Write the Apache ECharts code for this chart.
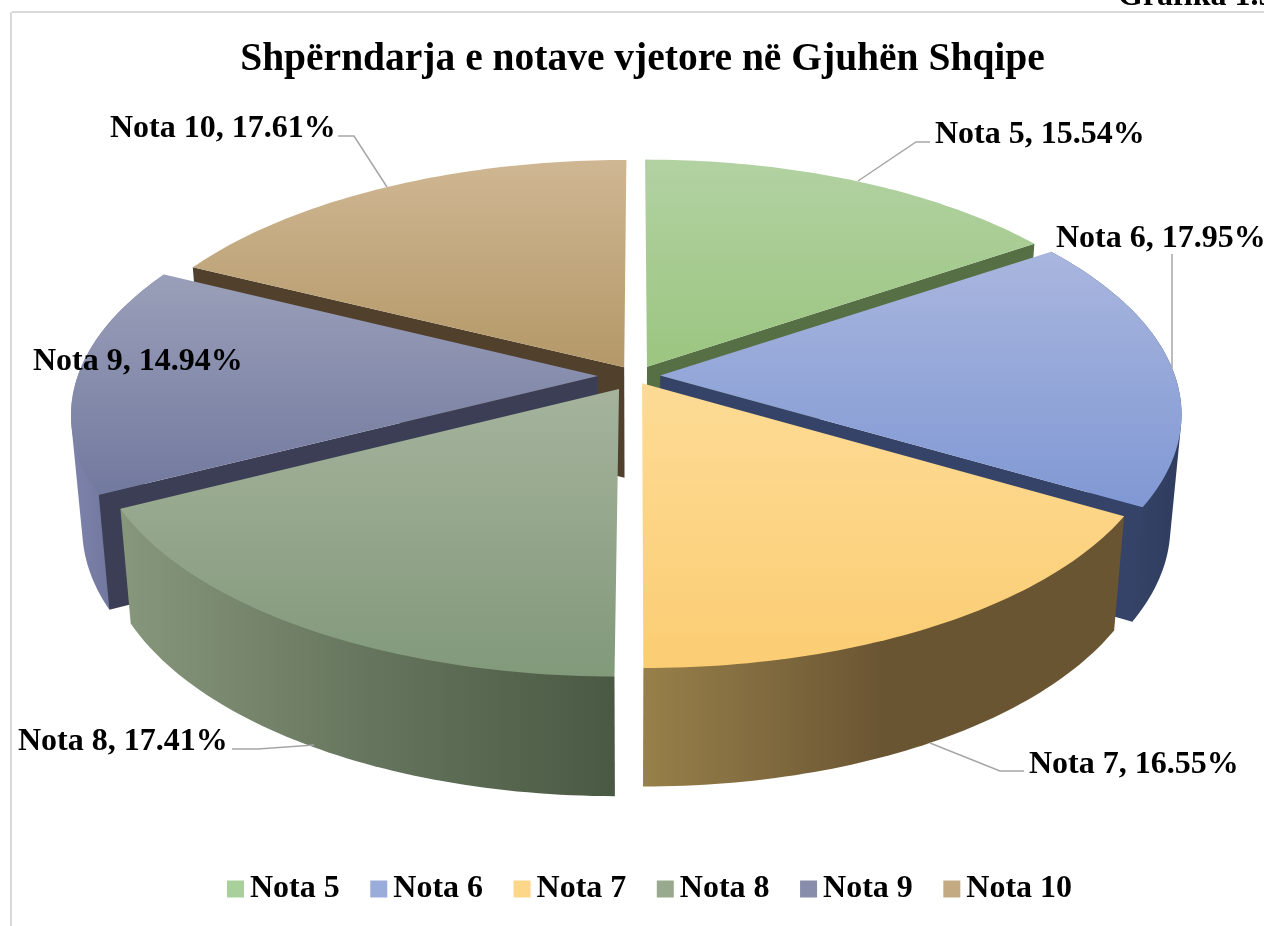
<!DOCTYPE html>
<html><head><meta charset="utf-8">
<style>html,body{margin:0;padding:0;background:#fff}#c{width:1264px;height:926px}</style>
<script src="https://cdn.jsdelivr.net/npm/echarts@6/dist/echarts.min.js"></script>
</head><body><div id="c"></div>
<script>
const categories = ['Nota 5','Nota 6','Nota 7','Nota 8','Nota 9','Nota 10'];
const values = [15.54,17.95,16.55,17.41,14.94,17.61];
const titleText = 'Shpërndarja e notave vjetore në Gjuhën Shqipe';

// Styling per slice: top gradient, wall colours (null = outer wall faces away)
const topColors = [['#b2d2a2','#9bc580'],['#a9b6de','#8098d4'],['#fddb95','#fbcd73'],['#a5b39d','#82997a'],['#9a9fb9','#72799e'],['#cfb793','#b49868']];
const legendColors = ['#a9d09a','#9aacda','#fcd78a','#98a98d','#888dac','#c4aa83'];
const wallStops = [null,['#3f4f78','#2f3c5e'],['#98804a','#6a5533','#6a5533'],['#87977c','#66755d','#4a5943'],['#7d83ab','#5f648c'],null];
const cutColors = ['#566f45','#364368','#6a5533','#5c6b54','#3b3e54','#50402c'];
const drawOrder = [5,0,4,1,3,2];
// which radial cut faces face the viewer [start, end]
const cutVisible = [[0,1],[0,1],[0,0],[0,0],[1,0],[1,0]];

// Layout only: label anchors, leader lines, per-slice view adjustment [dx, dy, sx, sy]
const labelPos = [[935,135],[1056,239],[1029,765],[18,742],[33,362],[110,129]];
const leaders = [
 [[930,142],[916,142],[858,181]],
 [[1172,254],[1172,368]],
 [[1024,771],[1000,771],[930,743]],
 [[232,749],[258,749],[314,745]],
 [],
 [[338,136],[354,136],[387,187]]
];
const sliceView = [[2,4,0.985,1],[-2,0,0.99,0.99],[-4,-6,0.983,0.983],[6,0,0.993,0.993],[0,0,1,1],[11,4,1,1]];

const cx=630, cy=376, A=520, B=242, k=0.15, d=0.062;
const total = values.reduce((a,b)=>a+b,0);
let acc=0;
const spans = values.map(v=>{const a0=acc/total*2*Math.PI; acc+=v; return [a0,acc/total*2*Math.PI];});

function proj(X,Y,z){
  const s=1/(1+k*Y);
  const x=cx+A*X*s, y=cy-B*Y*s;
  return z ? [cx+(x-cx)*0.98, y+111-9*Y] : [x,y];
}

function hull(pts){
  const p=pts.slice().sort((a,b)=>a[0]-b[0]||a[1]-b[1]);
  const cross=(o,a,b)=>(a[0]-o[0])*(b[1]-o[1])-(a[1]-o[1])*(b[0]-o[0]);
  const lo=[],up=[];
  p.forEach(q=>{while(lo.length>1&&cross(lo[lo.length-2],lo[lo.length-1],q)<=0)lo.pop();lo.push(q);});
  p.slice().reverse().forEach(q=>{while(up.length>1&&cross(up[up.length-2],up[up.length-1],q)<=0)up.pop();up.push(q);});
  lo.pop();up.pop();
  return lo.concat(up);
}

function sliceShapes(i){
  const [a0,a1]=spans[i], m=(a0+a1)/2;
  const ox=d*Math.sin(m), oy=d*Math.cos(m);
  const ref=proj(ox,oy,false), v=sliceView[i];
  const pt=(a,r,z)=>{
    const p=proj(ox+r*Math.sin(a),oy+r*Math.cos(a),z);
    return [ref[0]+(p[0]-ref[0])*v[2]+v[0], ref[1]+(p[1]-ref[1])*v[3]+v[1]];
  };
  const n=60, rimTop=[], rimBot=[];
  for(let j=0;j<=n;j++){const a=a0+(a1-a0)*j/n; rimTop.push(pt(a,1,false)); rimBot.push(pt(a,1,true));}
  const apex=pt(0,0,false), apexB=pt(0,0,true);
  const children=[];
  const poly=(points,fill)=>children.push({type:'polygon',shape:{points},style:{fill,stroke:null}});
  const st=wallStops[i];
  if(st) poly(hull(rimTop.concat(rimBot)),
    new echarts.graphic.LinearGradient(0,0,1,0,st.map((c,q)=>({offset:q/(st.length-1),color:c}))));
  if(cutVisible[i][0]) poly([apex,rimTop[0],rimBot[0],apexB],cutColors[i]);
  if(cutVisible[i][1]) poly([apex,rimTop[n],rimBot[n],apexB],cutColors[i]);
  poly([apex].concat(rimTop),
    new echarts.graphic.LinearGradient(0,0,0,1,[{offset:0,color:topColors[i][0]},{offset:1,color:topColors[i][1]}]));
  return children;
}

const series = drawOrder.map((i,o)=>({
  type:'custom', name:categories[i], coordinateSystem:'none', z:2+o,
  itemStyle:{color:legendColors[i]},
  data:[values[i]], silent:true,
  renderItem:()=>({type:'group',children:sliceShapes(i)})
}));

const labelSeries = {
  type:'custom', name:'labels', coordinateSystem:'none', z:20, silent:true,
  data:values.map((v,i)=>i),
  renderItem:(p)=>{
    const i=p.dataIndex, ch=[];
    if(leaders[i].length) ch.push({type:'polyline',shape:{points:leaders[i]},style:{stroke:'#a6a6a6',lineWidth:1.5,fill:null}});
    ch.push({type:'text',style:{x:labelPos[i][0],y:labelPos[i][1],text:categories[i]+', '+values[i].toFixed(2)+'%',
      fill:'#000',font:'bold 32px "Liberation Serif"',verticalAlign:'middle',align:'left'}});
    return {type:'group',children:ch};
  }
};

const chart=echarts.init(document.getElementById('c'),null,{renderer:'canvas'});
chart.setOption({
  animation:false, backgroundColor:'#fff',
  title:{text:titleText,left:637.5,top:35,textAlign:'center',
    textStyle:{fontFamily:'Liberation Serif',fontWeight:'bold',fontSize:39.5,color:'#000'}},
  legend:{data:categories,left:222,top:868,icon:'rect',itemWidth:17,itemHeight:17,itemGap:30.5,
    selectedMode:false,
    textStyle:{fontFamily:'Liberation Serif',fontWeight:'bold',fontSize:32,color:'#000',padding:[0,0,0,1]}},
  graphic:[
    {type:'line',shape:{x1:12,y1:12,x2:1264,y2:12},style:{stroke:'#d9d9d9',lineWidth:2}},
    {type:'line',shape:{x1:11,y1:12,x2:11,y2:926},style:{stroke:'#d9d9d9',lineWidth:2}},
    {type:'text',style:{x:1118,y:13,text:'Grafika 1.5',fill:'#000',font:'bold 32px "Liberation Serif"',verticalAlign:'bottom'}}
  ],
  series:series.concat([labelSeries])
});
</script></body></html>
